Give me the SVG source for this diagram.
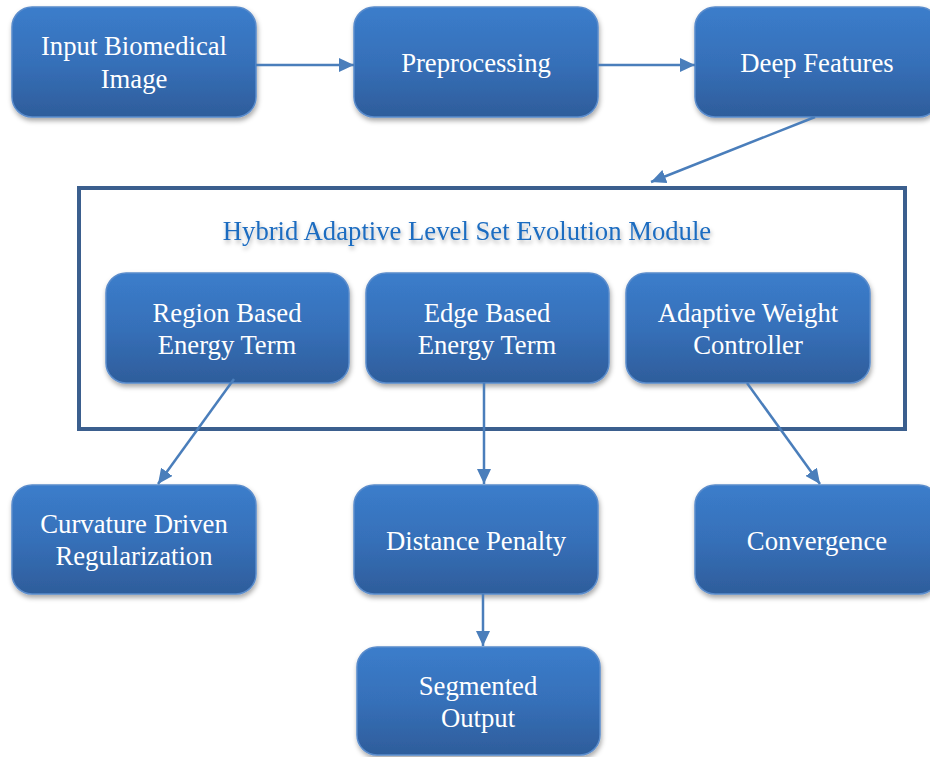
<svg xmlns="http://www.w3.org/2000/svg" width="930" height="757" viewBox="0 0 930 757">
<defs>
<linearGradient id="g" x1="0" y1="0" x2="0" y2="1">
<stop offset="0" stop-color="#3b7dcb"/>
<stop offset="0.5" stop-color="#3670b9"/>
<stop offset="1" stop-color="#2e5d9b"/>
</linearGradient>
<filter id="sh" x="-10%" y="-10%" width="125%" height="130%">
<feDropShadow dx="1" dy="3" stdDeviation="2.5" flood-color="#000" flood-opacity="0.35"/>
</filter>
<filter id="tsh" x="-5%" y="-30%" width="110%" height="180%">
<feDropShadow dx="1" dy="3" stdDeviation="2" flood-color="#000" flood-opacity="0.3"/>
</filter>
<marker id="ah" markerUnits="userSpaceOnUse" markerWidth="16" markerHeight="14" refX="15" refY="7" orient="auto">
<path d="M0,0 L15,7 L0,14 Z" fill="#4a7ebb"/>
</marker>
</defs>
<style>
.box{fill:url(#g);stroke:#5a8ccc;stroke-width:1.5;filter:url(#sh)}
.t{font-family:"Liberation Serif","Times New Roman",serif;font-size:26.7px;fill:#ffffff;text-anchor:middle}
.title{font-family:"Liberation Serif","Times New Roman",serif;font-size:26.7px;fill:#1c6cc0;text-anchor:middle;filter:url(#tsh)}
.c{stroke:#4a7ebb;stroke-width:2.5;fill:none;marker-end:url(#ah)}
.frame{fill:none;stroke:#3b5f8e;stroke-width:4}
</style>
<rect width="930" height="757" fill="#ffffff"/>
<g id="module">
<rect class="frame" x="79" y="188" width="826" height="241"/>
<text class="title" x="467" y="240">Hybrid Adaptive Level Set Evolution Module</text>
</g>
<g id="input"><rect class="box" x="12" y="7" width="244" height="110" rx="20"/><text class="t" x="134" y="55">Input Biomedical</text><text class="t" x="134" y="88">Image</text></g>
<g id="preprocessing"><rect class="box" x="354" y="7" width="244" height="110" rx="20"/><text class="t" x="476" y="72">Preprocessing</text></g>
<g id="deep"><rect class="box" x="695" y="7" width="244" height="110" rx="20"/><text class="t" x="817" y="72">Deep Features</text></g>
<g id="region"><rect class="box" x="106" y="273" width="243" height="110" rx="20"/><text class="t" x="227" y="322">Region Based</text><text class="t" x="227" y="354">Energy Term</text></g>
<g id="edge"><rect class="box" x="366" y="273" width="243" height="110" rx="20"/><text class="t" x="487" y="322">Edge Based</text><text class="t" x="487" y="354">Energy Term</text></g>
<g id="adaptive"><rect class="box" x="626" y="273" width="244" height="110" rx="20"/><text class="t" x="748" y="322">Adaptive Weight</text><text class="t" x="748" y="354">Controller</text></g>
<g id="curvature"><rect class="box" x="12" y="485" width="244" height="109" rx="20"/><text class="t" x="134" y="533">Curvature Driven</text><text class="t" x="134" y="565">Regularization</text></g>
<g id="distance"><rect class="box" x="354" y="485" width="244" height="109" rx="20"/><text class="t" x="476" y="550">Distance Penalty</text></g>
<g id="convergence"><rect class="box" x="695" y="485" width="244" height="109" rx="20"/><text class="t" x="817" y="550">Convergence</text></g>
<g id="segmented"><rect class="box" x="357" y="647" width="243" height="108" rx="20"/><text class="t" x="478" y="695">Segmented</text><text class="t" x="478" y="727">Output</text></g>
<g id="connectors">
<line class="c" x1="256" y1="65" x2="354" y2="65"/>
<line class="c" x1="598" y1="65" x2="695" y2="65"/>
<line class="c" x1="815" y1="117" x2="651" y2="182"/>
<line class="c" x1="234" y1="379" x2="158" y2="484"/>
<line class="c" x1="484" y1="383" x2="484" y2="484"/>
<line class="c" x1="747" y1="383" x2="820" y2="484"/>
<line class="c" x1="483" y1="594" x2="483" y2="646"/>
</g>
</svg>
